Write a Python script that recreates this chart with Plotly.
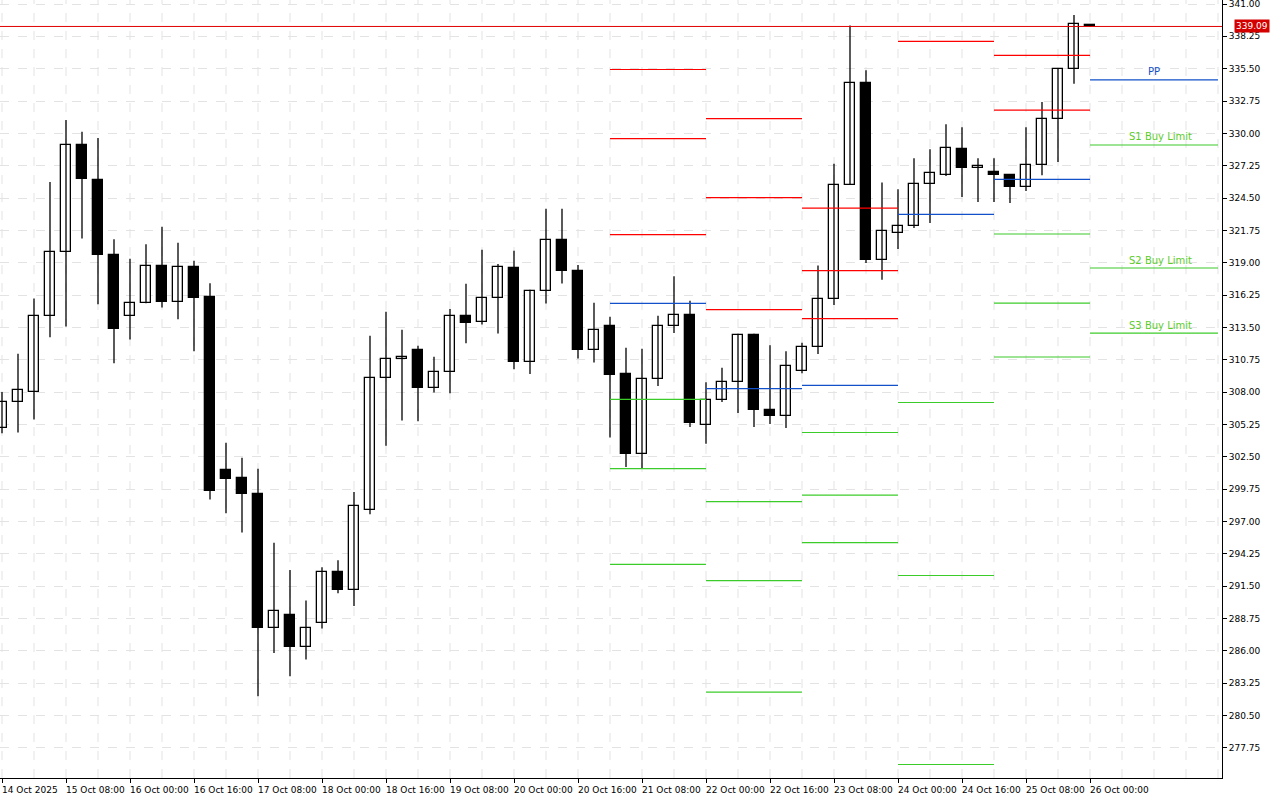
"""
H4 candles with daily pivot levels, MetaTrader style
"""

import plotly.graph_objects as go

# candle data (H4), index = bar number
opens = [304.95, 307.13, 308.04, 314.45, 319.92, 328.99, 326.03, 319.66, 314.45, 315.56,
         318.71, 315.65, 318.61, 316.11, 301.37, 300.68, 299.32, 287.93, 289.03, 286.33,
         288.36, 292.70, 291.17, 297.97, 309.19, 310.81, 311.57, 308.34, 309.70, 314.46,
         313.95, 315.99, 318.54, 310.52, 316.59, 320.92, 318.32, 311.57, 313.61, 309.56,
         302.76, 309.14, 313.64, 314.58, 305.23, 307.35, 308.88, 312.88, 306.50, 305.99,
         309.82, 311.86, 315.94, 325.64, 334.31, 319.26, 321.55, 322.12, 325.72, 326.49,
         328.70, 327.08, 326.71, 326.49, 325.47, 327.34, 331.25, 335.50, 339.15]
highs = [308.00, 311.26, 315.95, 325.87, 331.14, 330.13, 329.61, 320.99, 319.33, 320.57,
         322.06, 320.70, 319.17, 317.25, 303.68, 302.41, 301.47, 295.18, 292.87, 290.27,
         293.10, 293.70, 299.50, 312.79, 314.83, 313.30, 311.94, 311.00, 315.06, 317.21,
         320.10, 318.88, 320.02, 316.70, 323.59, 323.59, 318.80, 315.60, 314.41, 311.77,
         311.69, 314.49, 317.84, 315.77, 308.83, 310.07, 312.96, 312.96, 311.97, 311.46,
         312.20, 318.77, 327.42, 339.18, 335.36, 325.81, 325.24, 327.88, 328.64, 330.77,
         330.51, 327.88, 327.88, 326.52, 330.51, 332.67, 335.50, 340.06, 339.20]
lows = [304.50, 304.56, 305.66, 312.66, 313.57, 321.06, 315.46, 310.45, 312.46, 315.56,
        315.20, 314.19, 311.46, 298.86, 297.69, 296.06, 282.14, 285.81, 283.83, 285.26,
        287.90, 290.90, 289.80, 297.60, 303.43, 305.59, 305.51, 307.97, 307.89, 312.14,
        313.75, 312.99, 309.93, 309.53, 315.54, 317.24, 310.86, 310.52, 304.14, 301.63,
        301.54, 308.51, 313.02, 305.03, 303.61, 307.15, 306.22, 305.03, 305.28, 304.94,
        309.60, 311.24, 315.40, 325.60, 318.98, 317.56, 320.17, 321.95, 322.38, 326.37,
        324.59, 324.16, 324.16, 324.08, 325.10, 326.43, 327.56, 334.22, 339.05]
closes = [307.13, 308.17, 314.45, 319.92, 328.99, 326.10, 319.62, 313.34, 315.56, 318.71,
          315.62, 318.61, 316.01, 299.55, 300.59, 299.29, 287.90, 289.36, 286.30, 287.93,
          292.70, 291.17, 298.31, 309.19, 310.81, 310.98, 308.31, 309.70, 314.46, 313.84,
          315.99, 318.63, 310.52, 316.59, 320.92, 318.26, 311.54, 313.27, 309.42, 302.76,
          309.14, 313.64, 314.58, 305.37, 307.35, 308.88, 312.88, 306.47, 305.99, 310.24,
          311.86, 315.94, 325.64, 334.31, 319.26, 321.72, 322.15, 325.72, 326.66, 328.78,
          327.05, 327.25, 326.49, 325.44, 327.34, 331.25, 335.50, 339.33, 339.09]

time_labels = ["14 Oct 2025", "15 Oct 08:00", "16 Oct 00:00", "16 Oct 16:00", "17 Oct 08:00",
               "18 Oct 00:00", "18 Oct 16:00", "19 Oct 08:00", "20 Oct 00:00", "20 Oct 16:00",
               "21 Oct 08:00", "22 Oct 00:00", "22 Oct 16:00", "23 Oct 08:00", "24 Oct 00:00",
               "24 Oct 16:00", "25 Oct 08:00", "26 Oct 00:00"]

# daily pivot levels (one value per day segment)
seg_start = [38, 44, 50, 56, 62, 68]
seg_end = [44, 50, 56, 62, 68, 76]
R3 = [335.43, 331.26, 323.64, None, None, None]
R2 = [329.55, 324.54, 318.33, None, 336.63, None]
R1 = [321.39, 315.01, 314.25, 337.83, 331.97, None]
PP = [315.54, 308.29, 308.56, 323.11, 326.09, 334.54]
S1 = [307.38, 298.69, 304.56, 307.11, 321.44, 329.01]
S2 = [301.49, 291.97, 299.24, 292.40, 315.57, 318.55]
S3 = [293.34, 282.48, 295.20, 276.33, 310.98, 313.02]

last_price = 339.09
FONT = "DejaVu Sans"

fig = go.Figure()

idx = list(range(len(opens)))

# vertical dashed grid every 2 bars
for g in range(0, 78, 2):
    fig.add_vline(x=g, line=dict(color="#e3e3e3", width=1, dash="dash"), layer="below")

# wicks
wx, wy = [], []
for i in idx:
    wx += [i, i, None]
    wy += [lows[i], highs[i], None]
fig.add_trace(go.Scatter(x=wx, y=wy, mode="lines", line=dict(color="black", width=1.3),
                         hoverinfo="skip", showlegend=False))

# bodies
base = [min(o, c) for o, c in zip(opens, closes)]
size = [max(abs(c - o), 0.12) for o, c in zip(opens, closes)]
fill = ["white" if c >= o else "black" for o, c in zip(opens, closes)]
fig.add_trace(go.Bar(x=idx, y=size, base=base, width=0.62,
                     marker=dict(color=fill, line=dict(color="black", width=1.3)),
                     showlegend=False))

# pivot segments
levels = [(R3, "#ff0000"), (R2, "#ff0000"), (R1, "#ff0000"), (PP, "#1150c8"),
          (S1, "#3ccc2a"), (S2, "#3ccc2a"), (S3, "#3ccc2a")]
for vals, color in levels:
    lx, ly = [], []
    for s, e, v in zip(seg_start, seg_end, vals):
        if v is None:
            continue
        lx += [s, e, None]
        ly += [v, v, None]
    fig.add_trace(go.Scatter(x=lx, y=ly, mode="lines", line=dict(color=color, width=1.2),
                             hoverinfo="skip", showlegend=False))

# labels on the current day's levels
for text, val, color, x in [("PP", PP[-1], "#1150c8", 72.0),
                            ("S1 Buy Limit", S1[-1], "#5ccc2a", 72.4),
                            ("S2 Buy Limit", S2[-1], "#5ccc2a", 72.4),
                            ("S3 Buy Limit", S3[-1], "#5ccc2a", 72.4)]:
    fig.add_annotation(x=x, y=val, text=text, showarrow=False, yshift=8,
                       font=dict(family=FONT, size=10, color=color))

# current price line and tag
fig.add_shape(type="line", xref="paper", x0=0, x1=1, yref="y", y0=last_price, y1=last_price,
              line=dict(color="#e00000", width=1))
fig.add_annotation(xref="paper", x=1.0, y=last_price, text=f"{last_price:.2f}", showarrow=False,
                   xanchor="left", xshift=12, bgcolor="#d40000", borderpad=1,
                   font=dict(family=FONT, size=9, color="white"))

# time labels, left aligned like the terminal
tick_pos = [i * 4 for i in range(len(time_labels))]
for p, t in zip(tick_pos, time_labels):
    fig.add_annotation(x=p, yref="paper", y=0, text=t, showarrow=False, xanchor="left",
                       yanchor="top", yshift=-5, xshift=-2,
                       font=dict(family=FONT, size=9, color="black"))

yticks = [round(277.75 + 2.75 * k, 2) for k in range(24)]

fig.update_layout(
    width=1280, height=800,
    margin=dict(l=0, r=58, t=0, b=22),
    paper_bgcolor="white", plot_bgcolor="white",
    bargap=0, showlegend=False,
    xaxis=dict(range=[-0.125, 76.25], tickvals=tick_pos, showticklabels=False,
               ticks="outside", ticklen=4, tickcolor="black",
               showgrid=False, showline=True, linecolor="black",
               zeroline=False, fixedrange=True),
    yaxis=dict(range=[275.18, 341.34], side="right", tickvals=yticks,
               ticktext=[f"{v:.2f}" for v in yticks], ticks="outside", ticklen=4,
               tickcolor="black", tickfont=dict(family=FONT, size=9, color="black"),
               ticklabeloverflow="allow",
               showgrid=True, gridcolor="#e3e3e3", griddash="dash",
               showline=True, linecolor="black", zeroline=False, fixedrange=True),
)

fig.write_html("out.html", config={"displayModeBar": False},
               post_script="document.body.style.margin='0';")
